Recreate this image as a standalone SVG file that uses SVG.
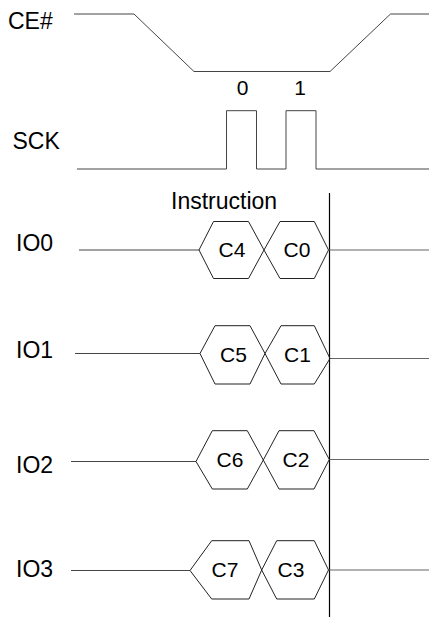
<svg xmlns="http://www.w3.org/2000/svg" width="429" height="618" viewBox="0 0 429 618">
<style>
.lbl{font-family:"Liberation Sans",Arial,sans-serif;font-size:23px;fill:#000}
.sm{font-family:"Liberation Sans",Arial,sans-serif;font-size:21px;fill:#000;text-anchor:middle}
.hex{font-family:"Liberation Sans",Arial,sans-serif;font-size:21px;fill:#000;text-anchor:middle}
.sig{fill:none;stroke:#444;stroke-width:1}
.hx{fill:none;stroke:#222;stroke-width:1}
.out{fill:none;stroke:#666;stroke-width:1.2}
</style>
<rect width="429" height="618" fill="#fff"/>
<g id="labels">
<text class="lbl" x="8" y="28.5">CE#</text>
<text class="lbl" x="12.5" y="149">SCK</text>
<text class="lbl" x="16" y="251">IO0</text>
<text class="lbl" x="16" y="358">IO1</text>
<text class="lbl" x="16" y="473">IO2</text>
<text class="lbl" x="16" y="577">IO3</text>
<text class="sm" x="242.5" y="95">0</text>
<text class="sm" x="300" y="95">1</text>
<text class="lbl" x="171" y="209">Instruction</text>
</g>
<g id="connectors">
<path id="ce" class="sig" d="M74,14 H134 L194,71.5 H330 L390.5,14 H429"/>
<path id="sck" class="sig" d="M77,169 H226.5 V110.7 H256.5 V169 H286 V110.7 H316 V169 H429"/>
<line id="marker" x1="329.5" y1="193" x2="329.5" y2="617" stroke="#000" stroke-width="1.2"/>
<line class="sig" x1="79" y1="250" x2="199" y2="250"/>
<line class="sig" x1="75" y1="353.5" x2="200" y2="353.5"/>
<line class="sig" x1="71" y1="461.5" x2="196" y2="461.5"/>
<line class="sig" x1="71" y1="570.5" x2="190" y2="570.5"/>
<line class="out" x1="329" y1="250" x2="429" y2="250"/>
<line class="out" x1="330" y1="358.5" x2="429" y2="358.5"/>
<line class="out" x1="329" y1="459.5" x2="429" y2="459.5"/>
<line class="out" x1="328.5" y1="570" x2="429" y2="570"/>
</g>
<g id="io0">
<path class="hx" d="M199,250 L213.5,221.5 H248.5 L264,250 L248.5,278.5 H213.5 Z"/>
<path class="hx" d="M264,250 L280,221.5 H314.3 L328.5,250 L314.3,278.5 H280 Z"/>
<text class="hex" x="232" y="257">C4</text>
<text class="hex" x="297" y="257">C0</text>
</g>
<g id="io1">
<path class="hx" d="M200,353.5 L215,325.7 H250 L265,353.5 L250,384 H215 Z"/>
<path class="hx" d="M265,353.5 L281,325.7 H314.3 L330,358.5 L314.3,384 H281 Z"/>
<text class="hex" x="233.5" y="362">C5</text>
<text class="hex" x="297.5" y="362">C1</text>
</g>
<g id="io2">
<path class="hx" d="M196,461.5 L212.3,430.7 H247.3 L263.3,460 L247.3,489 H212.3 Z"/>
<path class="hx" d="M263.3,460 L279,430.7 H314 L329.3,459.5 L314,489 H279 Z"/>
<text class="hex" x="230" y="466.5">C6</text>
<text class="hex" x="296" y="466.5">C2</text>
</g>
<g id="io3">
<path class="hx" d="M190,570.5 L211.7,540.7 H249 L261.7,570 L249,599 H211.7 Z"/>
<path class="hx" d="M261.7,570 L276.7,540.7 H314.3 L328.5,570 L314.3,599 H276.7 Z"/>
<text class="hex" x="225" y="577">C7</text>
<text class="hex" x="291" y="577">C3</text>
</g>
</svg>
